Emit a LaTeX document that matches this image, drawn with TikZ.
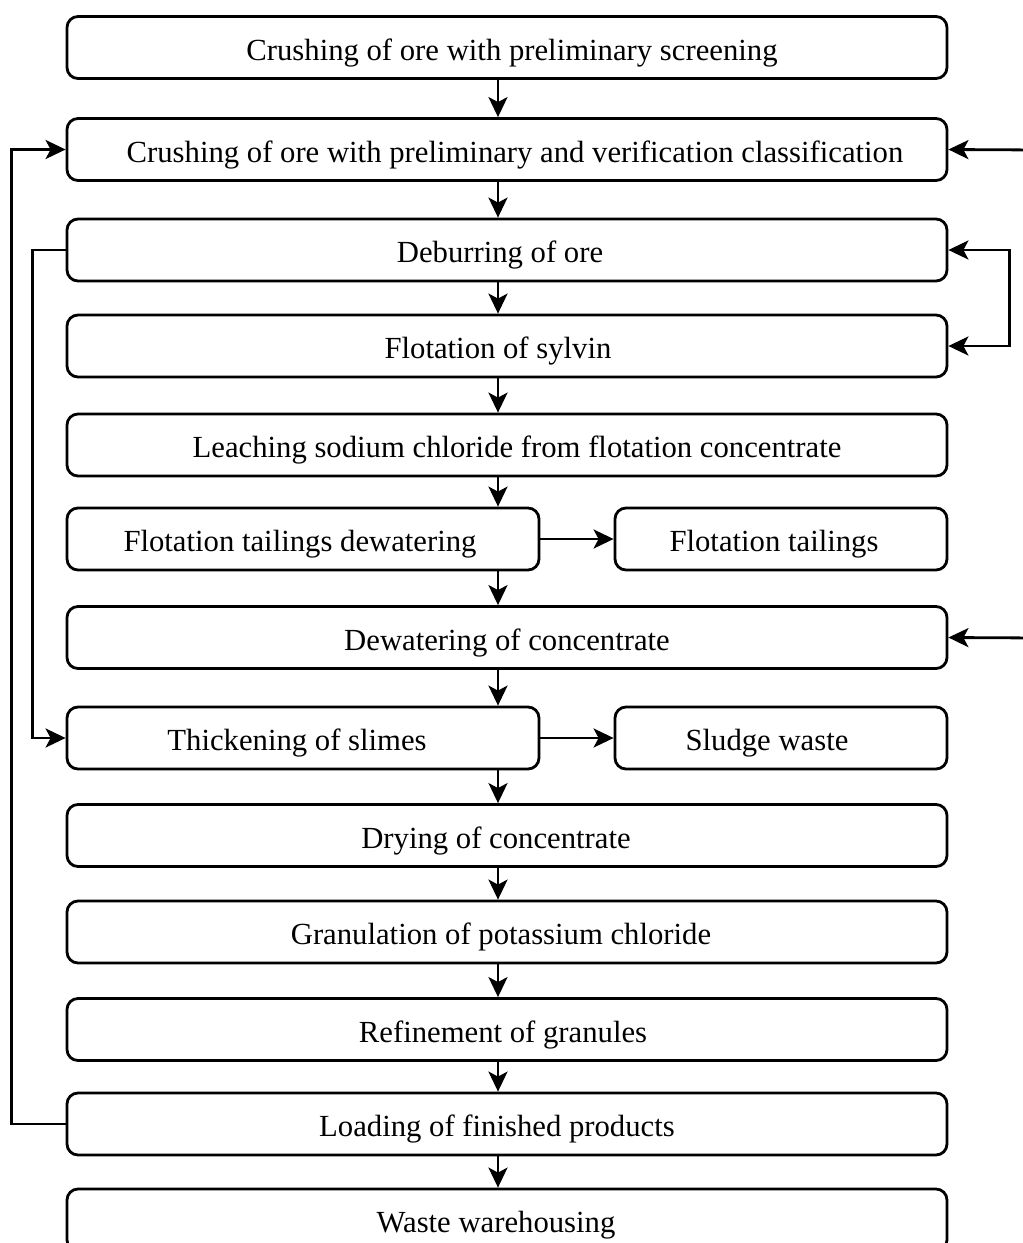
\documentclass[tikz,border=0pt]{standalone}
\usepackage{fontspec}
\setmainfont{Liberation Serif}
\usetikzlibrary{arrows.meta}
\begin{document}
\begin{tikzpicture}[x=1pt,y=-1pt,
  box/.style={draw, line width=2.8pt, rounded corners=11pt, minimum height=62pt,
    inner sep=0pt, font=\fontsize{30.7}{36}\selectfont, text height=25pt, text depth=0pt},
  wide/.style={box, minimum width=880pt},
  lbox/.style={box, minimum width=472pt},
  rbox/.style={box, minimum width=332pt},
  tip/.style={},
  arr/.style={line width=2.8pt, -{Stealth[length=20pt,width=19pt,inset=5pt]}},
  darr/.style={line width=2.8pt, {Stealth[length=20pt,width=19pt,inset=5pt]}-{Stealth[length=20pt,width=19pt,inset=5pt]}}
]
\useasboundingbox (0,0) rectangle (1023,1243);
\fill[white] (0,0) rectangle (1023,1243);
\begin{scope}
\clip (0,0) rectangle (1023,1243);
\node[wide] (b1) at (507,47.5) {\hspace*{10pt}Crushing of ore with preliminary screening};
\node[wide] (b2) at (507,149.5) {\hspace*{16pt}Crushing of ore with preliminary and verification classification};
\node[wide] (b3) at (507,250) {Deburring of ore\hspace*{14pt}};
\node[wide] (b4) at (507,346) {Flotation of sylvin\hspace*{18pt}};
\node[wide] (b5) at (507,445) {\hspace*{20pt}Leaching sodium chloride from flotation concentrate};
\node[lbox] (b6) at (303,539) {Flotation tailings dewatering\hspace*{6pt}};
\node[rbox] (b6r) at (781,539) {Flotation tailings\hspace*{14pt}};
\node[wide] (b7) at (507,637.5) {Dewatering of concentrate};
\node[lbox] (b8) at (303,738) {Thickening of slimes\hspace*{12pt}};
\node[rbox] (b8r) at (781,738) {Sludge waste\hspace*{28pt}};
\node[wide] (b9) at (507,835.5) {Drying of concentrate\hspace*{22pt}};
\node[wide] (b10) at (507,932) {Granulation of potassium chloride\hspace*{12pt}};
\node[wide] (b11) at (507,1029.5) {Refinement of granules\hspace*{8pt}};
\node[wide] (b12) at (507,1124) {Loading of finished products\hspace*{20pt}};
\node[wide] (b13) at (507,1220) {Waste warehousing\hspace*{22pt}};

\coordinate (ax) at (498,0);
\coordinate (rin1) at (1040,150);
\coordinate (rin2) at (1040,638);

\foreach \a/\b in {b1/b2,b2/b3,b3/b4,b4/b5,b5/b6,b6/b7,b7/b8,b8/b9,b9/b10,b10/b11,b11/b12,b12/b13}
  \draw[arr] (\a.south -| ax) -- (\b.north -| ax);

\draw[arr] (b6.east) -- (b6r.west);
\draw[arr] (b8.east) -- (b8r.west);

\draw[arr] (b12.west) -- ++(-54,0) |- (b2.west);
\draw[arr] (b3.west) -- ++(-33,0) |- (b8.west);

\draw[arr] (rin1) -- (b2.east);
\draw[arr] (rin2) -- (b7.east);
\draw[darr] (b3.east) -- ++(61,0) |- (b4.east);
\end{scope}
\end{tikzpicture}
\end{document}
